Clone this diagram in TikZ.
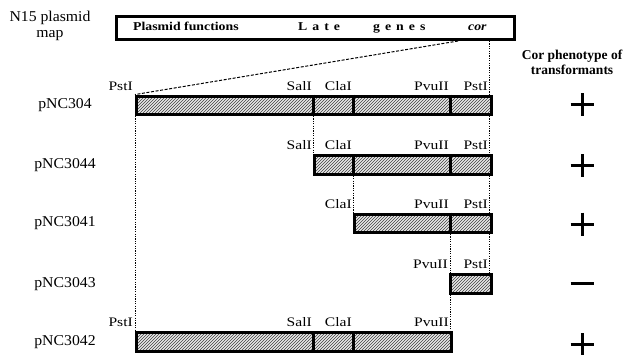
\documentclass[tikz,border=0pt]{standalone}
\usepackage{fontspec}
\setmainfont{Liberation Serif}
\newfontfamily\namefont{Liberation Serif}[FakeStretch=1.05]
\newfontfamily\rsfont{Liberation Serif}[FakeStretch=1.2]
\newfontfamily\boxfont{Liberation Serif}[FakeStretch=1.15]
\usetikzlibrary{patterns}
\tikzset{
  bar/.style={draw, line width=3pt, preaction={fill=gray!18}, pattern=north east lines, pattern color=black!75,
    minimum height=18.5pt, inner sep=0pt, anchor=west},
  divider/.style={line width=3pt},
  dotline/.style={line width=0.8pt, dash pattern=on 1.2pt off 1.2pt},
  dashline/.style={line width=1pt, dash pattern=on 3pt off 1.6pt},
  site/.style={anchor=base east, inner sep=0pt, font=\rsfont\fontsize{13}{15}\selectfont},
  pname/.style={inner sep=0pt, font=\namefont\fontsize{15}{17}\selectfont},
  sign/.style={line width=3pt},
  boxtxt/.style={anchor=base west, inner sep=0pt, font=\boxfont\bfseries\fontsize{12}{14}\selectfont}
}
\begin{document}
\begin{tikzpicture}[x=1pt,y=-1pt]
\useasboundingbox (0,0) rectangle (642,358);
% x positions of the cuts
\coordinate (xP) at (135,0);
\coordinate (xS) at (313,0);
\coordinate (xC) at (353,0);
\coordinate (xV) at (450,0);
\coordinate (xQ) at (489.5,0);
\coordinate (xD) at (458,0);
% top map
\node[draw, line width=3pt, minimum width=398pt, minimum height=23pt, anchor=north west, inner sep=0pt] (map) at (115,15) {};
\node[boxtxt] (pf) at (133,31) {Plasmid functions};
\node[boxtxt] (late) at (298,31) {L\hspace{5pt}a\hspace{5pt}t\hspace{5pt}e};
\node[boxtxt] (genes) at (373,31) {g\hspace{5pt}e\hspace{5pt}n\hspace{5pt}e\hspace{5pt}s};
\node[boxtxt, font=\boxfont\bfseries\itshape\fontsize{12}{14}\selectfont] (cortxt) at (468,31) {cor};
\node[align=center, inner sep=0pt, font=\namefont\fontsize{15}{16.5}\selectfont] (n15) at (50,26) {N15 plasmid\\map};
\node[align=center, inner sep=0pt, font=\bfseries\fontsize{13.5}{15}\selectfont] (phen) at (572,62) {Cor phenotype of\\transformants};
% bars
\node[bar, minimum width=354.5pt] (r1) at (135,105.3) {};
\node[bar, minimum width=176.5pt] (r2) at (313,165) {};
\node[bar, minimum width=136.5pt] (r3) at (353,223.3) {};
\node[bar, minimum width=40.5pt] (r4) at (449,283.8) {};
\node[bar, minimum width=315pt] (r5) at (135,342) {};
% dividers
\draw[divider] (r1.north -| xS) -- (r1.south -| xS);
\draw[divider] (r1.north -| xC) -- (r1.south -| xC);
\draw[divider] (r1.north -| xV) -- (r1.south -| xV);
\draw[divider] (r2.north -| xC) -- (r2.south -| xC);
\draw[divider] (r2.north -| xV) -- (r2.south -| xV);
\draw[divider] (r3.north -| xV) -- (r3.south -| xV);
\draw[divider] (r5.north -| xS) -- (r5.south -| xS);
\draw[divider] (r5.north -| xC) -- (r5.south -| xC);
% dashed and dotted guides
\draw[dashline] (map.south -| xD) -- (r1.north west);
\draw[dotline] (map.south -| xQ) -- (r1.north -| xQ);
\draw[dotline] (r1.south -| xQ) -- (r2.north -| xQ);
\draw[dotline] (r2.south -| xQ) -- (r3.north -| xQ);
\draw[dotline] (r3.south -| xQ) -- (r4.north -| xQ);
\draw[dotline] (r1.south -| xP) -- (r5.north -| xP);
\draw[dotline] (r1.south -| xS) -- (r2.north -| xS);
\draw[dotline] (r2.south -| xC) -- (r3.north -| xC);
\draw[dotline] (r3.south -| xV) -- (r4.north -| xV);
\draw[dotline] (r4.south -| xV) -- (r5.north -| xV);
% plasmid names
\node[pname] (n1) at (65,105.3) {pNC304};
\node[pname] (n2) at (65,165) {pNC3044};
\node[pname] (n3) at (65,223.3) {pNC3041};
\node[pname] (n4) at (65,283.8) {pNC3043};
\node[pname] (n5) at (65,342) {pNC3042};
% site labels
\node[site] (a1) at (133,90.5) {PstI};
\node[site] (a2) at (312,90.5) {SalI};
\node[site] (a3) at (352,90.5) {ClaI};
\node[site] (a4) at (449,90.5) {PvuII};
\node[site] (a5) at (488,90.5) {PstI};
\node[site] (b1) at (312,150) {SalI};
\node[site] (b2) at (352,150) {ClaI};
\node[site] (b3) at (449,150) {PvuII};
\node[site] (b4) at (488,150) {PstI};
\node[site] (c1) at (352,208) {ClaI};
\node[site] (c2) at (449,208) {PvuII};
\node[site] (c3) at (488,208) {PstI};
\node[site] (d1) at (448,268.5) {PvuII};
\node[site] (d2) at (488,268.5) {PstI};
\node[site] (e1) at (133,326.8) {PstI};
\node[site] (e2) at (312,326.8) {SalI};
\node[site] (e3) at (352,326.8) {ClaI};
\node[site] (e4) at (449,326.8) {PvuII};
% phenotype signs
\draw[sign] (570.5,105) -- (593.5,105) (582,93.5) -- (582,116.5);
\draw[sign] (570.5,166) -- (593.5,166) (582,154.5) -- (582,177.5);
\draw[sign] (570.5,224) -- (593.5,224) (582,212.5) -- (582,235.5);
\draw[sign] (570.5,283) -- (593.5,283);
\draw[sign] (570.5,344) -- (593.5,344) (582,333) -- (582,355);
\end{tikzpicture}
\end{document}
